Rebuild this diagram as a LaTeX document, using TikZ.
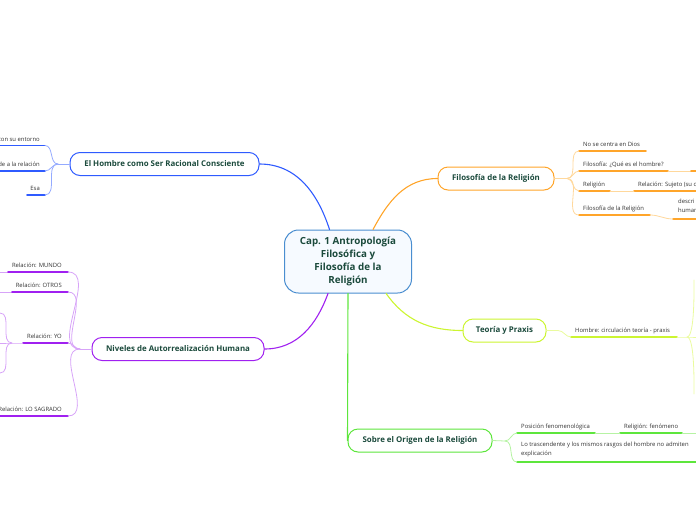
\documentclass[tikz,border=0pt]{standalone}
\usepackage{fontspec}
\setmainfont{Open Sans}
\usetikzlibrary{arrows.meta}
\definecolor{titulo}{HTML}{1B4A3C}
\definecolor{texto}{HTML}{333333}
\definecolor{bordecentro}{HTML}{4A8ED0}
\definecolor{fondocentro}{HTML}{F6FAFF}
\definecolor{azul}{HTML}{2F5BFF}
\definecolor{azulclaro}{HTML}{94AAFF}
\definecolor{morado}{HTML}{A020F0}
\definecolor{moradoclaro}{HTML}{D7A3F8}
\definecolor{naranja}{HTML}{FFA52A}
\definecolor{naranjaclaro}{HTML}{FFD89C}
\definecolor{lima}{HTML}{CCF531}
\definecolor{limaclaro}{HTML}{EAFB9E}
\definecolor{verde}{HTML}{5DE63C}
\definecolor{verdeclaro}{HTML}{B6F3A3}
\tikzset{
  every picture/.style={line join=round, line cap=round},
  centro/.style={draw=bordecentro, fill=fondocentro, line width=1pt, rounded corners=14pt,
    minimum width=127pt, minimum height=63pt, align=center, text=titulo,
    font=\fontsize{9.8}{13.2}\selectfont\bfseries},
  tema/.style={draw, fill=white, line width=1pt, rounded corners=10pt, minimum height=23pt,
    inner xsep=0pt, text=titulo, font=\fontsize{7.9}{9}\selectfont\bfseries},
  hoja/.style={inner sep=0pt, text=texto, font=\fontsize{5.9}{9}\selectfont},
  rama/.style={line width=1.1pt},
  enlace/.style={line width=0.8pt},
  subrayado/.style={line width=1.7pt},
}
\begin{document}
\begin{tikzpicture}[x=1pt, y=-1pt]
\useasboundingbox (0,0) rectangle (696,520);
\clip (0,0) rectangle (696,520);

\node[centro] (cap) at (348,261.5) {Cap. 1 Antropología\\Filosófica y\\Filosofía de la\\Religión};
\node[tema, draw=azul, minimum width=189pt] (hombre) at (164.5,164) {El Hombre como Ser Racional Consciente};
\node[tema, draw=morado, minimum width=172pt] (niveles) at (178,349) {Niveles de Autorrealización Humana};
\node[tema, draw=naranja, minimum width=116pt] (filosofia) at (496,178.5) {Filosofía de la Religión};
\node[tema, draw=lima, minimum width=83pt] (teoria) at (504.5,330.5) {Teoría y Praxis};
\node[tema, draw=verde, minimum width=144pt] (origen) at (420,440.5) {Sobre el Origen de la Religión};

\coordinate (hombreFan) at (58,164);
\coordinate (nivelesFan) at (80,349);
\coordinate (yoFan) at (12,343);
\coordinate (yoArriba) at (0,313);
\coordinate (yoAbajo) at (0,373);
\coordinate (filosofiaFan) at (567,178.5);
\coordinate (teoriaCodo) at (558,330.5);
\coordinate (praxisFan) at (687,337);
\coordinate (praxisArriba) at (694,280);
\coordinate (praxisAbajo) at (694,394);
\coordinate (origenFan) at (505,441);

\draw[rama, azul] (hombre.east) to[out=0, in=108] (cap.120);
\draw[rama, naranja] (filosofia.west) to[out=180, in=62] (cap.52);
\draw[rama, morado] (niveles.east) to[out=0, in=-110] (cap.-122);
\draw[rama, lima] (teoria.west) to[out=180, in=-55] (cap.-40);
\draw[rama, verde] (cap.south) -- (origen.west);

\node[hoja, anchor=base east] (entorno) at (40,141) {con su entorno};
\node[hoja, anchor=base east] (relacion) at (40,166.5) {de a la relación};
\node[hoja, anchor=base east] (esa) at (40,190.5) {Esa};
\draw[subrayado, azul] (0,145.5) -- (45,145.5) coordinate (entornoFin);
\draw[subrayado, azul] (0,171) -- (45,171) coordinate (relacionFin);
\draw[subrayado, azul] (27,195) -- (45,195) coordinate (esaFin);
\draw[enlace, azulclaro] (hombre.west) -- (hombreFan);
\foreach \h in {entornoFin, relacionFin, esaFin}
  \draw[enlace, azulclaro] (hombreFan) to[out=180, in=0] (\h);

\node[hoja, anchor=base east] (mundo) at (62,267.5) {Relación: MUNDO};
\node[hoja, anchor=base east] (otros) at (62,287.5) {Relación: OTROS};
\node[hoja, anchor=base east] (yo) at (62,338.5) {Relación: YO};
\node[hoja, anchor=base east] (sagrado) at (62,411.5) {Relación: LO SAGRADO};
\draw[enlace, moradoclaro] (0,272) -- (8,272);
\draw[subrayado, morado] (8,272) -- (68,272) coordinate (mundoFin);
\draw[enlace, moradoclaro] (0,292) -- (12,292);
\draw[subrayado, morado] (12,292) -- (68,292) coordinate (otrosFin);
\draw[subrayado, morado] (23,343) coordinate (yoIni) -- (68,343) coordinate (yoFin);
\draw[subrayado, morado] (0,416) -- (68,416) coordinate (sagradoFin);
\draw[enlace, moradoclaro] (niveles.west) -- (nivelesFan);
\foreach \m in {mundoFin, otrosFin, yoFin, sagradoFin}
  \draw[enlace, moradoclaro] (nivelesFan) to[out=180, in=0] (\m);
\draw[enlace, moradoclaro] (yoIni) -- (yoFan) -- (0,343);
\draw[enlace, moradoclaro] (yoFan) to[out=180, in=0] (yoArriba);
\draw[enlace, moradoclaro] (yoFan) to[out=180, in=0] (yoAbajo);

\node[hoja, anchor=base west] (dios) at (583,146.5) {No se centra en Dios};
\node[hoja, anchor=base west] (pregunta) at (583,166.5) {Filosofía: ¿Qué es el hombre?};
\node[hoja, anchor=base west] (religion) at (583,186.5) {Religión};
\node[hoja, anchor=base west] (sujeto) at (638,186.5) {Relación: Sujeto (su c};
\node[hoja, anchor=base west] (filrel) at (583,210.5) {Filosofía de la Religión};
\node[hoja, anchor=north west, align=left] (descri) at (678,199) {descri\\human};
\draw[subrayado, naranja] (579,151) coordinate (diosIni) -- (646,151);
\draw[subrayado, naranja] (579,171) coordinate (preguntaIni) -- (668,171) coordinate (preguntaFin);
\draw[enlace, naranjaclaro] (preguntaFin) -- (691,171);
\draw[subrayado, naranja] (691,171) -- (700,171);
\draw[subrayado, naranja] (579,191) coordinate (religionIni) -- (610,191) coordinate (religionFin);
\draw[subrayado, naranja] (634,191) coordinate (sujetoIni) -- (700,191);
\draw[enlace, naranjaclaro] (religionFin) -- (sujetoIni);
\draw[subrayado, naranja] (579,215) coordinate (filrelIni) -- (650,215) coordinate (filrelFin);
\draw[subrayado, naranja] (673,219) coordinate (descriIni) -- (700,219);
\draw[enlace, naranjaclaro] (filrelFin) to[out=0, in=180] (descriIni);
\draw[enlace, naranjaclaro] (filosofia.east) -- (filosofiaFan);
\foreach \f in {diosIni, preguntaIni, religionIni, filrelIni}
  \draw[enlace, naranjaclaro] (filosofiaFan) to[out=0, in=180] (\f);

\node[hoja, anchor=base west] (praxis) at (575,332.5) {Hombre: circulación teoría - praxis};
\draw[subrayado, lima] (571,337) coordinate (praxisIni) -- (677,337) coordinate (praxisFin);
\draw[enlace, limaclaro] (teoria.east) -- (teoriaCodo) to[out=0, in=180] (praxisIni);
\draw[enlace, limaclaro] (praxisFin) -- (praxisFan) -- (700,337);
\draw[enlace, limaclaro] (praxisFan) to[out=0, in=-90, looseness=0.35] (praxisArriba);
\draw[enlace, limaclaro] (praxisFan) to[out=0, in=90, looseness=0.35] (praxisAbajo);

\node[hoja, anchor=base west] (posicion) at (521,428.5) {Posición fenomenológica};
\node[hoja, anchor=base west] (fenomeno) at (624,428.5) {Religión: fenómeno};
\node[hoja, anchor=north west, align=left] (trascendente) at (521,441.5) {Lo trascendente y los mismos rasgos del hombre no admiten\\explicación};
\draw[subrayado, verde] (517,433) coordinate (posicionIni) -- (595,433) coordinate (posicionFin);
\draw[subrayado, verde] (620,433) coordinate (fenomenoIni) -- (682,433) coordinate (fenomenoFin);
\draw[enlace, verdeclaro] (posicionFin) -- (fenomenoIni);
\draw[enlace, verdeclaro] (fenomenoFin) -- (700,433);
\draw[subrayado, verde] (517,462) coordinate (trascendenteIni) -- (700,462);
\draw[enlace, verdeclaro] (origen.east) -- (origenFan);
\foreach \o in {posicionIni, trascendenteIni}
  \draw[enlace, verdeclaro] (origenFan) to[out=0, in=180] (\o);
\end{tikzpicture}
\end{document}
